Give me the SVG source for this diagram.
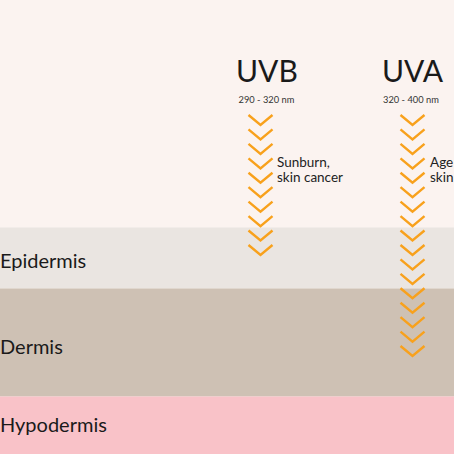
<svg xmlns="http://www.w3.org/2000/svg" xmlns:xlink="http://www.w3.org/1999/xlink" width="454" height="454" viewBox="0 0 454 454">
<style>
text{font-family:Lato,"Open Sans","Liberation Sans",sans-serif;fill:#1a1a1a}
.big{font-size:30px}
.nm{font-size:9.3px;fill:#333}
.note{font-size:13.5px;fill:#222}
.layer{font-size:20px}
.chev{fill:none;stroke:#F8A11C;stroke-width:2.4;stroke-linecap:butt;stroke-linejoin:miter}
</style>
<defs>
<path id="ch" class="chev" d="M-12,-5 L0,5 L12,-5"/>
</defs>
<rect width="454" height="454" fill="#FBF3F0"/>
<g id="epidermis"><rect y="227.5" width="454" height="61" fill="#EAE5E1"/><text class="layer" x="0" y="267.5">Epidermis</text></g>
<g id="dermis"><rect y="288.5" width="454" height="108" fill="#CEC1B4"/><text class="layer" x="0" y="354">Dermis</text></g>
<g id="hypodermis"><rect y="396.5" width="454" height="58" fill="#F9C2C8"/><text class="layer" x="0" y="432">Hypodermis</text></g>
<g id="uvb">
<text class="big" x="236" y="82">UVB</text>
<text class="nm" x="238.5" y="102.5">290 - 320 nm</text>
<g transform="translate(260.5,120)">
<use xlink:href="#ch" y="0"/><use xlink:href="#ch" y="14.44"/><use xlink:href="#ch" y="28.88"/><use xlink:href="#ch" y="43.32"/><use xlink:href="#ch" y="57.76"/><use xlink:href="#ch" y="72.2"/><use xlink:href="#ch" y="86.64"/><use xlink:href="#ch" y="101.08"/><use xlink:href="#ch" y="115.52"/><use xlink:href="#ch" y="129.96"/>
</g>
<text class="note" x="277" y="167">Sunburn,</text>
<text class="note" x="277" y="182">skin cancer</text>
</g>
<g id="uva">
<text class="big" x="382" y="82">UVA</text>
<text class="nm" x="383" y="102.5">320 - 400 nm</text>
<g transform="translate(412.5,120)">
<use xlink:href="#ch" y="0"/><use xlink:href="#ch" y="14.44"/><use xlink:href="#ch" y="28.88"/><use xlink:href="#ch" y="43.32"/><use xlink:href="#ch" y="57.76"/><use xlink:href="#ch" y="72.2"/><use xlink:href="#ch" y="86.64"/><use xlink:href="#ch" y="101.08"/><use xlink:href="#ch" y="115.52"/><use xlink:href="#ch" y="129.96"/><use xlink:href="#ch" y="144.4"/><use xlink:href="#ch" y="158.84"/><use xlink:href="#ch" y="173.28"/><use xlink:href="#ch" y="187.72"/><use xlink:href="#ch" y="202.16"/><use xlink:href="#ch" y="216.6"/><use xlink:href="#ch" y="231.04"/>
</g>
<text class="note" x="430" y="167">Age</text>
<text class="note" x="430" y="182">skin</text>
</g>
</svg>
